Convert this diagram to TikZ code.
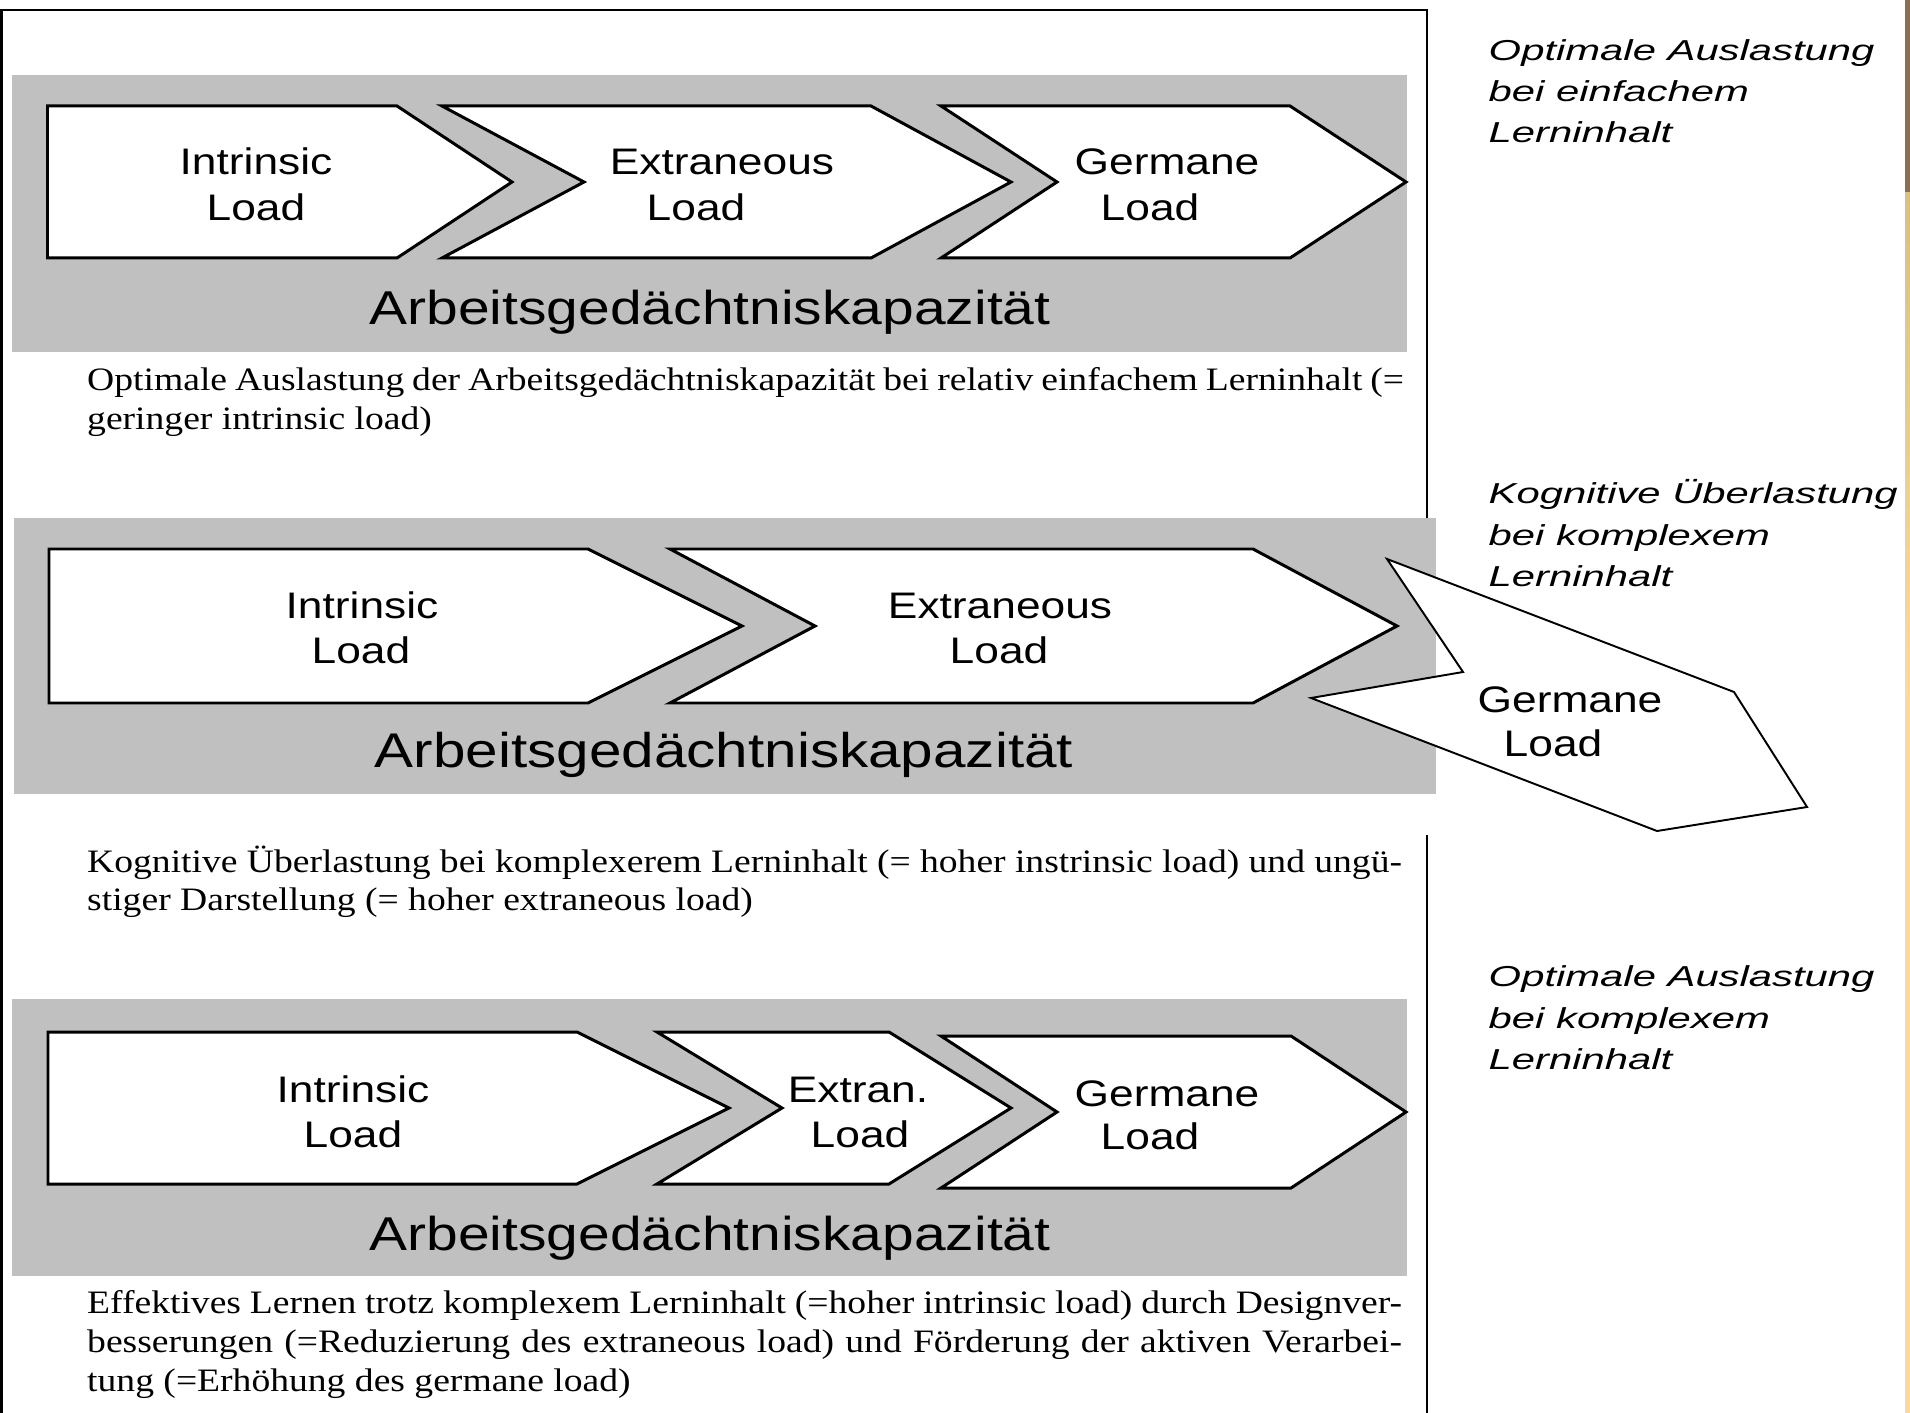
\documentclass[tikz,border=0pt]{standalone}
\usepackage{fontspec}
\setmainfont{Liberation Serif}[FakeStretch=1.15]
\newfontfamily\labelsans[FakeStretch=1.2]{Liberation Sans}
\newfontfamily\sidesans[FakeStretch=1.45]{Liberation Sans}
\definecolor{panelgray}{HTML}{C0C0C0}
\definecolor{stripbrown}{HTML}{8E6E50}
\definecolor{striptan}{HTML}{DCC07C}
\definecolor{stripgold}{HTML}{FFD998}
\begin{document}
\begin{tikzpicture}[x=0.01cm,y=-0.01cm,
  panel/.style={fill=panelgray,draw=none},
  chevron/.style={draw=black,fill=white,line width=0.85pt,line join=miter},
  tilted/.style={draw=black,fill=white,line width=0.55pt,line join=miter},
  frameline/.style={draw=black,line width=0.6pt},
  lbl/.style={inner sep=0pt,anchor=base,font=\labelsans\fontsize{10.5pt}{12pt}\selectfont},
  kap/.style={inner sep=0pt,anchor=base,font=\labelsans\fontsize{13.5pt}{16pt}\selectfont},
  kapwide/.style={kap,font=\labelsans\fontsize{13.85pt}{16pt}\selectfont},
  desc/.style={inner sep=0pt,anchor=base west,font=\fontsize{9.3pt}{11pt}\selectfont},
  side/.style={inner sep=0pt,anchor=base west,font=\sidesans\itshape\fontsize{8.2pt}{10pt}\selectfont}]
\useasboundingbox (0,0) rectangle (1910,1413);
\fill[white] (0,0) rectangle (1910,1413);

% right edge strip
\fill[stripbrown] (1905,0) rectangle (1910,193);
\shade[top color=striptan,bottom color=stripgold] (1905,193) rectangle (1910,700);
\fill[stripgold] (1905,700) rectangle (1910,1413);

% frame
\draw[frameline] (1.5,1413) -- (1.5,10) -- (1427,10) -- (1427,518);
\draw[frameline] (1427,835) -- (1427,1413);

% ---------- panel 1 ----------
\fill[panel] (12,75) rectangle (1407,352);
\draw[chevron] (47.5,106) -- (397,106) -- (512,182) -- (397,258) -- (47.5,258) -- cycle;
\draw[chevron] (442,106) -- (871,106) -- (1011,182) -- (871,258) -- (442,258) -- (584,182) -- cycle;
\draw[chevron] (941,106) -- (1290,106) -- (1406,182) -- (1290,258) -- (941,258) -- (1057,182) -- cycle;
\node[lbl] (i1a) at (256,175) {Intrinsic};
\node[lbl] (i1b) at (256,221) {Load};
\node[lbl] (e1a) at (722,175) {Extraneous};
\node[lbl] (e1b) at (696,221) {Load};
\node[lbl] (g1a) at (1167,175) {Germane};
\node[lbl] (g1b) at (1150,221) {Load};
\node[kap] (k1) at (710,325) {Arbeitsgedächtniskapazität};
\node[desc] (d1a) at (86.5,391) {\makebox[13.16cm][s]{Optimale Auslastung der Arbeitsgedächtniskapazität bei relativ einfachem Lerninhalt (=}};
\node[desc] (d1b) at (86.5,430) {geringer intrinsic load)};

% ---------- panel 2 ----------
\fill[panel] (14,518) rectangle (1436,794);
\draw[chevron] (49,549) -- (588,549) -- (742,626) -- (588,703) -- (49,703) -- cycle;
\draw[chevron] (670,549) -- (1253,549) -- (1397,626) -- (1253,703) -- (670,703) -- (815,626) -- cycle;
\draw[tilted] (1387,559) -- (1463,672) -- (1311,698) -- (1657,831) -- (1807,807) -- (1734,692) -- cycle;
\node[lbl] (i2a) at (362,618) {Intrinsic};
\node[lbl] (i2b) at (361,663) {Load};
\node[lbl] (e2a) at (1000,618) {Extraneous};
\node[lbl] (e2b) at (999,663) {Load};
\node[lbl] (g2a) at (1570,712) {Germane};
\node[lbl] (g2b) at (1553,756) {Load};
\node[kapwide] (k2) at (724,767) {Arbeitsgedächtniskapazität};
\node[desc] (d2a) at (86.5,872) {\makebox[13.14cm][s]{Kognitive Überlastung bei komplexerem Lerninhalt (= hoher instrinsic load) und ungü-}};
\node[desc] (d2b) at (86.5,910) {stiger Darstellung (= hoher extraneous load)};

% ---------- panel 3 ----------
\fill[panel] (12,999) rectangle (1407,1276);
\draw[chevron] (48,1032) -- (577,1032) -- (729,1108) -- (577,1184) -- (48,1184) -- cycle;
\draw[chevron] (657,1032) -- (889,1032) -- (1011,1108) -- (889,1184) -- (657,1184) -- (782,1108) -- cycle;
\draw[chevron] (941,1036) -- (1291,1036) -- (1406,1112) -- (1291,1188) -- (941,1188) -- (1057,1112) -- cycle;
\node[lbl] (i3a) at (353,1102) {Intrinsic};
\node[lbl] (i3b) at (353,1147) {Load};
\node[lbl] (x3a) at (858,1102) {Extran.};
\node[lbl] (x3b) at (860,1147) {Load};
\node[lbl] (g3a) at (1167,1106) {Germane};
\node[lbl] (g3b) at (1150,1149) {Load};
\node[kap] (k3) at (710,1250) {Arbeitsgedächtniskapazität};
\node[desc] (d3a) at (86.5,1313) {\makebox[13.14cm][s]{Effektives Lernen trotz komplexem Lerninhalt (=hoher intrinsic load) durch Designver-}};
\node[desc] (d3b) at (86.5,1352) {\makebox[13.14cm][s]{besserungen (=Reduzierung des extraneous load) und Förderung der aktiven Verarbei-}};
\node[desc] (d3c) at (86.5,1391) {tung (=Erhöhung des germane load)};

% ---------- side notes ----------
\node[side] (s1a) at (1488,61) {Optimale Auslastung};
\node[side] (s1b) at (1488,102) {bei einfachem};
\node[side] (s1c) at (1488,143) {Lerninhalt};
\node[side] (s2a) at (1488,504) {Kognitive Überlastung};
\node[side] (s2b) at (1488,545) {bei komplexem};
\node[side] (s2c) at (1488,586) {Lerninhalt};
\node[side] (s3a) at (1488,986) {Optimale Auslastung};
\node[side] (s3b) at (1488,1028) {bei komplexem};
\node[side] (s3c) at (1488,1069) {Lerninhalt};
\end{tikzpicture}
\end{document}
